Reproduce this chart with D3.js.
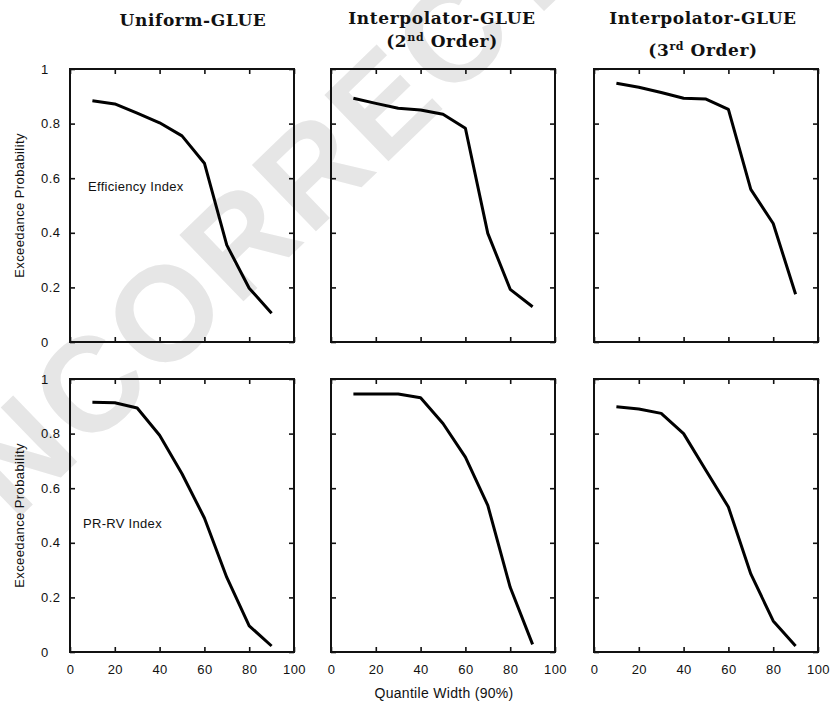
<!DOCTYPE html>
<html lang="en">
<head>
    <meta charset="UTF-8">
    <title>Exceedance Probability vs Quantile Width</title>
    <script src="https://d3js.org/d3.v7.min.js"></script>
    <style>
        body { margin: 0; background: #fff; }
        .tick text { font: 13px "Liberation Sans", Arial, sans-serif; fill: #111; letter-spacing: 0.4px; }
        .domain { display: none; }
        .tick line { stroke: #111; stroke-width: 1.6; }
    </style>
</head>
<body>
    <svg width="832" height="704"></svg>
    <script>
        // Data
        const quantileWidth = [10, 20, 30, 40, 50, 60, 70, 80, 90];
        const uniformEff = [0.884, 0.872, 0.838, 0.803, 0.755, 0.655, 0.355, 0.197, 0.105];
        const interp2Eff = [0.893, 0.874, 0.856, 0.850, 0.834, 0.783, 0.398, 0.193, 0.129];
        const interp3Eff = [0.948, 0.933, 0.914, 0.893, 0.890, 0.852, 0.559, 0.434, 0.175];
        const uniformPR = [0.915, 0.913, 0.894, 0.794, 0.653, 0.491, 0.273, 0.096, 0.022];
        const interp2PR = [0.945, 0.945, 0.945, 0.931, 0.837, 0.714, 0.537, 0.237, 0.028];
        const interp3PR = [0.898, 0.890, 0.874, 0.800, 0.665, 0.531, 0.286, 0.114, 0.022];

        const xTicks = [0, 20, 40, 60, 80, 100];
        const yTicks = [0, 0.2, 0.4, 0.6, 0.8, 1];
        const rowLabels = ["Efficiency Index", "PR-RV Index"];
        const series = [
            [uniformEff, interp2Eff, interp3Eff],
            [uniformPR, interp2PR, interp3PR]
        ];

        const svg = d3.select("svg");

        // faint watermark behind everything
        svg.append("text")
           .attr("transform", "translate(300,182) rotate(-44)")
           .attr("text-anchor", "middle")
           .attr("dominant-baseline", "central")
           .attr("fill", "#e6e6e6")
           .style("font", "bold 134px 'Liberation Sans', Arial, sans-serif")
           .style("letter-spacing", "4px")
           .text("UNCORRECTED");

        const colX = [70, 331, 594], panelW = 224;
        const rowY = [69, 379], panelH = 273;

        // column titles
        const serif = "bold 17px 'DejaVu Serif', serif";
        const titles = [
            {x: 193, lines: [["Uniform-GLUE"]], y: [26]},
            {x: 442, lines: [["Interpolator-GLUE"], ["(2", "nd", " Order)"]], y: [24, 47]},
            {x: 703, lines: [["Interpolator-GLUE"], ["(3", "rd", " Order)"]], y: [24, 56]}
        ];
        titles.forEach(t => {
            t.lines.forEach((parts, i) => {
                const txt = svg.append("text")
                    .attr("x", t.x).attr("y", t.y[i])
                    .attr("text-anchor", "middle")
                    .style("font", serif)
                    .style("letter-spacing", "0.6px")
                    .attr("fill", "#111");
                parts.forEach((p, j) => {
                    const ts = txt.append("tspan").text(p);
                    if (j === 1) ts.attr("dy", -6).style("font-size", "11px");
                    if (j === 2) ts.attr("dy", 6);
                });
            });
        });

        series.forEach((rowSeries, r) => {
            rowSeries.forEach((vals, c) => {
                const g = svg.append("g")
                    .attr("transform", `translate(${colX[c]},${rowY[r]})`);
                const x = d3.scaleLinear().domain([0, 100]).range([0, panelW]);
                const y = d3.scaleLinear().domain([0, 1]).range([panelH, 0]);

                // inward ticks on all four sides
                const bottom = g.append("g")
                    .attr("transform", `translate(0,${panelH})`)
                    .call(d3.axisBottom(x).tickValues(xTicks).tickSize(-5).tickPadding(13));
                if (r === 0) bottom.selectAll("text").remove();
                g.append("g")
                    .call(d3.axisTop(x).tickValues(xTicks).tickSize(-5).tickFormat(""));
                const left = g.append("g")
                    .call(d3.axisLeft(y).tickValues(yTicks).tickSize(-5).tickPadding(12)
                        .tickFormat(d => d === 0 || d === 1 ? d3.format("d")(d) : d3.format(".1f")(d)));
                if (c === 0) {
                    left.selectAll("text").attr("text-anchor", "start").attr("x", -29);
                } else {
                    left.selectAll("text").remove();
                }
                g.append("g")
                    .attr("transform", `translate(${panelW},0)`)
                    .call(d3.axisRight(y).tickValues(yTicks).tickSize(-5).tickFormat(""));

                g.append("rect")
                    .attr("width", panelW).attr("height", panelH)
                    .attr("fill", "none").attr("stroke", "#111").attr("stroke-width", 2);

                const line = d3.line()
                    .x((d, i) => x(quantileWidth[i]))
                    .y(d => y(d));
                g.append("path")
                    .datum(vals)
                    .attr("d", line)
                    .attr("fill", "none")
                    .attr("stroke", "#000")
                    .attr("stroke-width", 3)
                    .attr("stroke-linejoin", "round");

                if (c === 0) {
                    g.append("text")
                        .attr("x", r === 0 ? 18 : 13)
                        .attr("y", r === 0 ? 122 : 149)
                        .style("font", "13px 'Liberation Sans', Arial, sans-serif")
                        .style("letter-spacing", "0.3px")
                        .attr("fill", "#111")
                        .text(rowLabels[r]);
                    g.append("text")
                        .attr("transform", `translate(-46,${panelH / 2}) rotate(-90)`)
                        .attr("text-anchor", "middle")
                        .style("font", "13px 'Liberation Sans', Arial, sans-serif")
                        .style("letter-spacing", "0.4px")
                        .attr("fill", "#111")
                        .text("Exceedance Probability");
                }
            });
        });

        svg.append("text")
           .attr("x", 444).attr("y", 698)
           .attr("text-anchor", "middle")
           .style("font", "14px 'Liberation Sans', Arial, sans-serif")
           .style("letter-spacing", "0.3px")
           .attr("fill", "#111")
           .text("Quantile Width (90%)");
    </script>
</body>
</html>
